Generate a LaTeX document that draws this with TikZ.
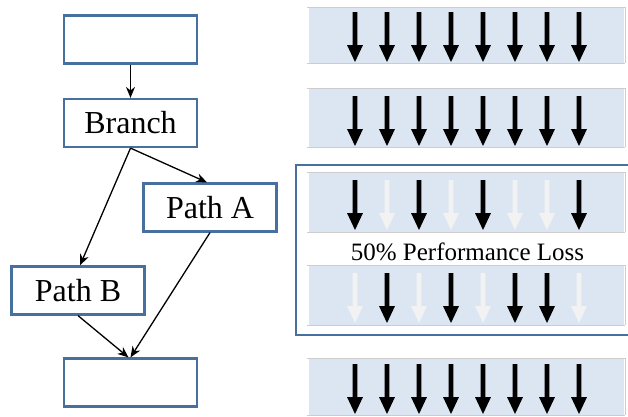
\documentclass[tikz,border=0pt]{standalone}
\usepackage{fontspec}
\setmainfont{Liberation Serif}
\usetikzlibrary{arrows.meta}
\definecolor{boxblue}{RGB}{72,112,158}
\definecolor{bandfill}{RGB}{220,230,242}
\definecolor{bandline}{RGB}{205,205,205}
\definecolor{offarrow}{RGB}{242,242,242}
\tikzset{
  flowbox/.style={draw=boxblue, line width=2.2pt, fill=white, minimum width=133pt, minimum height=48pt, inner sep=0pt, font=\fontsize{32}{36}\selectfont},
  conn/.style={line width=1.3pt, -{Stealth[length=11pt,width=9pt]}},
  pics/darr/.style={code={\fill[#1] (-2.3,0) -- (2.3,0) -- (2.3,33) -- (8,33) -- (0,50) -- (-8,33) -- (-2.3,33) -- cycle;}}
}
\newcommand\band[2]{%
  \fill[bandfill] (309,#1) rectangle (624,#2);
  \draw[bandline, line width=1pt] (307,#1) -- (625,#1) -- (625,#2);
  \draw[bandline, line width=1pt] (307,#2) -- (625,#2);
}
\begin{document}
\begin{tikzpicture}[x=1pt,y=-1pt]
\useasboundingbox (0,0) rectangle (628,416);
% flow chart
\node[flowbox] (top) at (130.5,39.5) {};
\node[flowbox] (branch) at (130.5,123) {Branch};
\node[flowbox] (patha) at (210,207.5) {Path A};
\node[flowbox] (pathb) at (78,290.5) {Path B};
\node[flowbox] (bottom) at (130.5,382.5) {};
\draw[conn] (top.south) -- (branch.north);
\draw[conn] (branch.south) -- ([xshift=-3pt]patha.north);
\draw[conn] (branch.south) -- ([xshift=2pt]pathb.north);
\draw[conn] (pathb.south) -- ([xshift=-2pt]bottom.north);
\draw[conn] (patha.south) -- (bottom.north);
% frame
\draw[boxblue, line width=2.2pt] (296,165) rectangle (640,335);
% bands
\band{7}{63}
\band{88}{147}
\band{172}{232}
\band{265}{325}
\band{358}{415}
\foreach \i in {0,...,7} {
  \pic at (355+32*\i,12) {darr=black};
  \pic at (355+32*\i,96) {darr=black};
  \pic at (355+32*\i,364) {darr=black};
}
\foreach \i/\c in {0/black,1/offarrow,2/black,3/offarrow,4/black,5/offarrow,6/offarrow,7/black} {
  \pic at (355+32*\i,180) {darr=\c};
}
\foreach \i/\c in {0/offarrow,1/black,2/offarrow,3/black,4/offarrow,5/black,6/black,7/offarrow} {
  \pic at (355+32*\i,273) {darr=\c};
}
\node[font=\fontsize{25}{29}\selectfont, inner sep=0pt] (loss) at (467.5,252) {50\% Performance Loss};
\end{tikzpicture}
\end{document}
